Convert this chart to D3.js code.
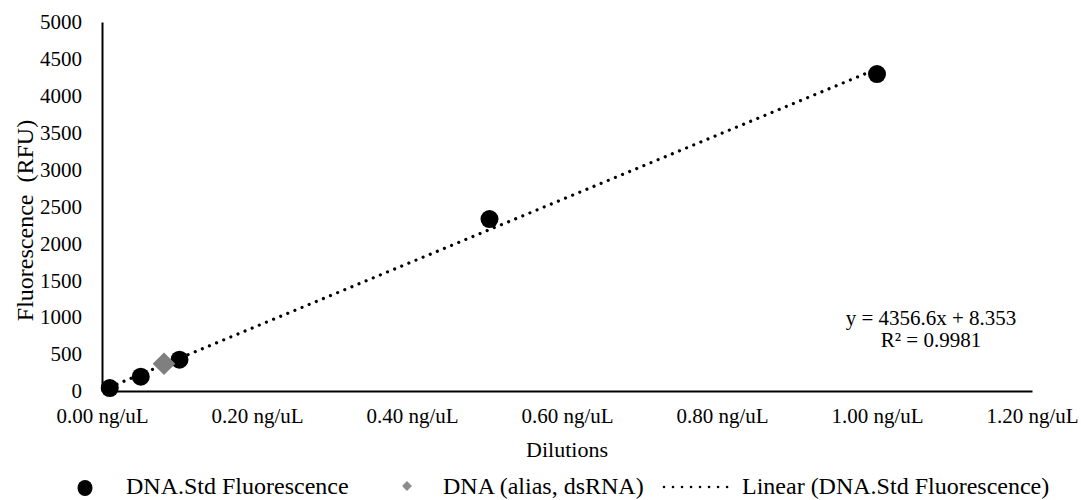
<!DOCTYPE html>
<html>
<head>
<meta charset="utf-8">
<script src="https://cdn.jsdelivr.net/npm/d3@7"></script>
<style>
  html, body { margin: 0; padding: 0; background: #fff; }
  svg, svg text { font-family: "Liberation Serif", "Times New Roman", Times, "DejaVu Serif", serif !important; }
</style>
</head>
<body>
<svg id="chart" width="1081" height="500"></svg>
<script>
// ---- data ----
const dilutions = [0.01, 0.05, 0.10, 0.50, 1.00];          // ng/uL
const stdFluorescence = [40, 194, 425, 2330, 4295];        // RFU
const aliasDilutions = [0.08];
const aliasFluorescence = [370];
const xTickValues = [0, 0.2, 0.4, 0.6, 0.8, 1.0, 1.2];
const yTickValues = [0, 500, 1000, 1500, 2000, 2500, 3000, 3500, 4000, 4500, 5000];
const trendSlope = 4356.6;
const trendIntercept = 8.353;
const rSquared = 0.9981;
const seriesNames = ["DNA.Std Fluorescence", "DNA (alias, dsRNA)", "Linear (DNA.Std Fluorescence)"];

const FONT = '"Liberation Serif", "Times New Roman", Times, "DejaVu Serif", serif';

// ---- layout ----
const svg = d3.select("#chart");
const plot = { left: 102, right: 1032, top: 22, bottom: 391 };

const x = d3.scaleLinear().domain([0, 1.2]).range([plot.left, plot.right]);
const y = d3.scaleLinear().domain([0, 5000]).range([plot.bottom, plot.top]);

// axes
const yAxis = d3.axisLeft(y).tickValues(yTickValues).tickSize(0).tickSizeOuter(0)
  .tickPadding(20).tickFormat(d3.format("d"));
const gy = svg.append("g").attr("transform", `translate(${plot.left},0)`).call(yAxis)
  .attr("font-family", FONT).attr("font-size", 21);
gy.selectAll("text").attr("fill", "#000");
gy.select(".domain").attr("stroke", "#000").attr("stroke-width", 2);

const xAxis = d3.axisBottom(x).tickValues(xTickValues).tickSize(0).tickSizeOuter(0)
  .tickPadding(17).tickFormat(d => d3.format(".2f")(d) + " ng/uL");
const gx = svg.append("g").attr("transform", `translate(0,${plot.bottom})`).call(xAxis)
  .attr("font-family", FONT).attr("font-size", 21);
gx.selectAll("text").attr("fill", "#000");
gx.select(".domain").attr("stroke", "#000").attr("stroke-width", 2);

// axis titles
svg.append("text").attr("x", (plot.left + plot.right) / 2).attr("y", 457)
  .attr("text-anchor", "middle").attr("font-size", 22).attr("font-family", FONT).text("Dilutions");
svg.append("text")
  .attr("transform", `translate(33,${(plot.top + plot.bottom) / 2 + 14}) rotate(-90)`)
  .attr("text-anchor", "middle").attr("font-size", 24).attr("font-family", FONT)
  .style("white-space", "pre")
  .text("Fluorescence  (RFU)");

// trendline
const xMin = d3.min(dilutions), xMax = d3.max(dilutions);
svg.append("line")
  .attr("x1", x(xMin)).attr("y1", y(trendSlope * xMin + trendIntercept))
  .attr("x2", x(xMax)).attr("y2", y(trendSlope * xMax + trendIntercept))
  .attr("stroke", "#000").attr("stroke-width", 3.2)
  .attr("stroke-linecap", "round").attr("stroke-dasharray", "0.01 7.7");

// standard points
svg.append("g").selectAll("circle").data(dilutions.map((d, i) => [d, stdFluorescence[i]]))
  .join("circle")
  .attr("cx", d => x(d[0])).attr("cy", d => y(d[1])).attr("r", 9).attr("fill", "#000");

// alias point
const diamond = d3.symbol().type(d3.symbolSquare).size(16 * 16);
svg.append("g").selectAll("path").data(aliasDilutions.map((d, i) => [d, aliasFluorescence[i]]))
  .join("path")
  .attr("d", diamond)
  .attr("transform", d => `translate(${x(d[0])},${y(d[1])}) rotate(45)`)
  .attr("fill", "#7f7f7f");

// equation
const eq = svg.append("text").attr("text-anchor", "middle").attr("font-size", 21).attr("font-family", FONT);
eq.append("tspan").attr("x", 931).attr("y", 325)
  .text(`y = ${trendSlope}x + ${trendIntercept}`);
eq.append("tspan").attr("x", 931).attr("y", 347).text(`R² = ${rSquared}`);

// legend
const legY = 494;
const lg = svg.append("g").attr("font-family", FONT).attr("font-size", 24);
lg.append("ellipse").attr("cx", 85).attr("cy", legY - 6).attr("rx", 7.5).attr("ry", 8).attr("fill", "#000");
lg.append("text").attr("x", 126).attr("y", legY).text(seriesNames[0]);
lg.append("path").attr("d", d3.symbol().type(d3.symbolSquare).size(7 * 7))
  .attr("transform", `translate(407,${legY - 8}) rotate(45)`).attr("fill", "#8c8c8c");
lg.append("text").attr("x", 443).attr("y", legY).text(seriesNames[1]);
lg.append("line").attr("x1", 664).attr("x2", 736).attr("y1", legY - 7).attr("y2", legY - 7)
  .attr("stroke", "#000").attr("stroke-width", 2.6).attr("stroke-linecap", "round")
  .attr("stroke-dasharray", "0.01 9");
lg.append("text").attr("x", 742).attr("y", legY).text(seriesNames[2]);
</script>
</body>
</html>
